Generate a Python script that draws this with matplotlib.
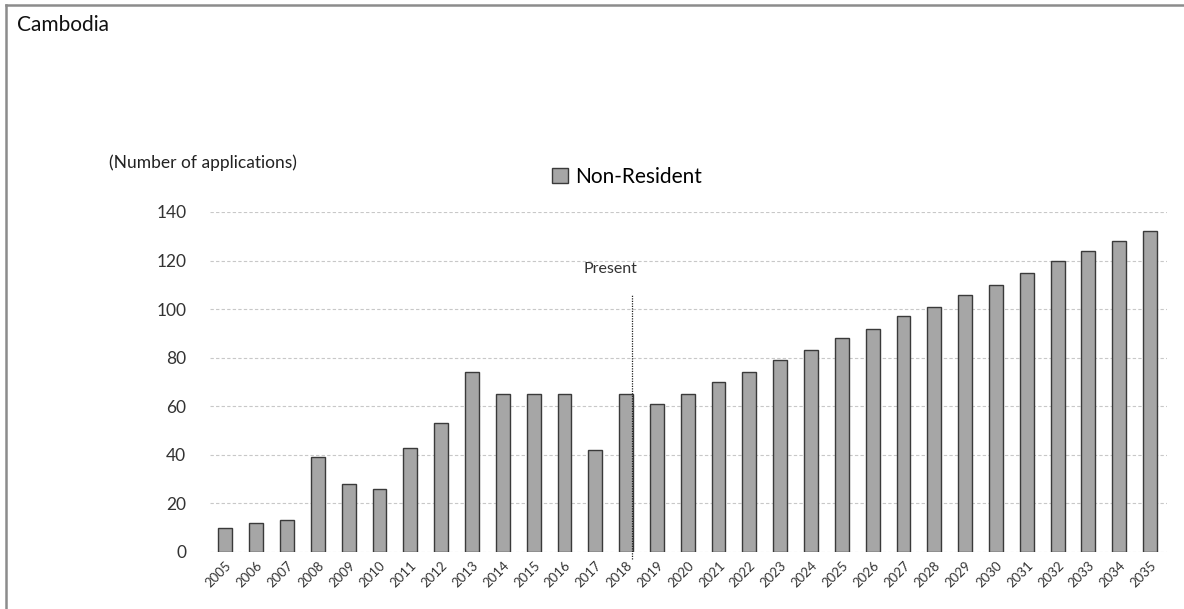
import numpy as np
import matplotlib.pyplot as plt
from matplotlib.lines import Line2D

plt.rcParams['font.family'] = ['Lato', 'DejaVu Sans']

years = [str(y) for y in range(2005, 2036)]
non_resident = [10, 12, 13, 39, 28, 26, 43, 53, 74, 65, 65, 65, 42, 65,
                61, 65, 70, 74, 79, 83, 88, 92, 97, 101, 106, 110, 115, 120,
                124, 128, 132]
present_year = '2018'

W, H = 1184, 609
fig = plt.figure(figsize=(W / 100, H / 100), dpi=100)
ax = fig.add_axes([210 / W, (H - 552) / H, 957 / W, 340 / H])

x = np.arange(len(years))
ax.bar(x, non_resident, width=0.45, color='#a6a6a6', edgecolor='#3a3a3a',
       linewidth=1.0, label='Non-Resident', zorder=3)

ax.set_xlim(-0.5, len(years) - 0.45)
ax.set_ylim(0, 140)
ax.set_yticks(range(0, 141, 20))
ax.set_xticks(x)
ax.set_xticklabels(years, rotation=45, ha='right', rotation_mode='anchor',
                   fontsize=9.5, color='#333333')
ax.tick_params(axis='y', labelsize=12.5, colors='#333333', length=0, pad=17)
ax.tick_params(axis='x', length=0, pad=5)
ax.grid(axis='y', color='#c8c8c8', linestyle=(0, (3, 2)), linewidth=0.8, zorder=0)
for s in ax.spines.values():
    s.set_visible(False)

# present marker
px = years.index(present_year) + 0.2
ax.plot([px, px], [-3, 106], color='#222222', linestyle=(0, (1, 1)),
        linewidth=0.9, clip_on=False, zorder=4)
ax.text(px - 0.7, 116.5, 'Present', fontsize=11.5, ha='center', va='center',
        color='#333333')

ax.legend(loc='center', bbox_to_anchor=(0.436, 1.103), frameon=False,
          fontsize=15, handlelength=0.75, handleheight=0.75, handletextpad=0.35)

fig.text(17 / W, 1 - 25 / H, 'Cambodia', fontsize=15, ha='left',
         va='center', color='#111111')
fig.text(203 / W, 1 - 163 / H, '(Number of applications)', fontsize=12.5,
         ha='center', va='center', color='#222222')

# frame: only left and top edges fall inside the picture
fig.lines.append(Line2D([6 / W, 6 / W], [0, 1 - 5 / H], transform=fig.transFigure,
                        color='#8c8c8c', linewidth=1.8))
fig.lines.append(Line2D([6 / W, 1], [1 - 5 / H, 1 - 5 / H], transform=fig.transFigure,
                        color='#8c8c8c', linewidth=1.8))

fig.savefig('out.png', dpi=100)
